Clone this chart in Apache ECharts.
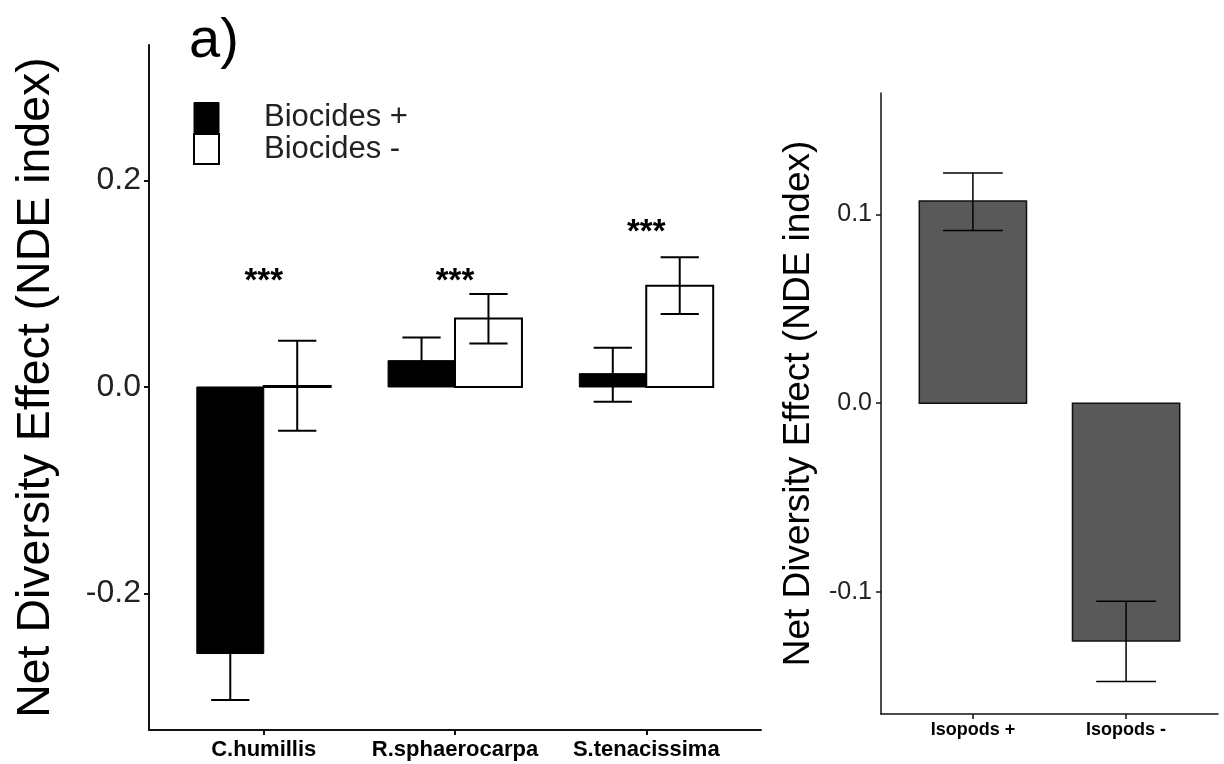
<!DOCTYPE html>
<html><head><meta charset="utf-8">
<script src="https://cdn.jsdelivr.net/npm/echarts@6/dist/echarts.min.js"></script>
<style>html,body{margin:0;padding:0;background:#fff}#c{width:1224px;height:764px}</style>
</head><body><div id="c"></div>
<script>
// ---- data: panel a (left) ----
const leftCategories = ['C.humillis', 'R.sphaerocarpa', 'S.tenacissima'];
const biocidesPlus     = [-0.258, 0.0255, 0.0129];
const biocidesPlusLow  = [-0.303, 0.003, -0.0143];
const biocidesPlusHigh = [-0.213, 0.048, 0.0379];
const biocidesMinus     = [0.001, 0.0663, 0.098];
const biocidesMinusLow  = [-0.0424, 0.042, 0.0706];
const biocidesMinusHigh = [0.0447, 0.090, 0.1255];
const sigLabels = ['***', '***', '***'];
const sigLabelY = [0.102, 0.102, 0.149];
const leftYTicks = [-0.2, 0, 0.2];
// ---- data: right panel ----
const rightCategories = ['Isopods +', 'Isopods -'];
const isopods     = [0.1072, -0.126];
const isopodsLow  = [0.0915, -0.1475];
const isopodsHigh = [0.122, -0.105];
const rightYTicks = [-0.1, 0, 0.1];

const FONT = 'Liberation Sans, Arial, sans-serif';

function barRender(o0, o1, fill, stroke, lw) {
  return function (params, api) {
    const x = api.value(0), y = api.value(1);
    const a = api.coord([x + o0, 0]), b = api.coord([x + o1, y]);
    return {type: 'rect', shape: {x: Math.min(a[0], b[0]), y: Math.min(a[1], b[1]),
      width: Math.abs(b[0] - a[0]), height: Math.abs(b[1] - a[1])},
      style: {fill: fill, stroke: stroke, lineWidth: lw}};
  };
}
function errRender(off, cap, lw) {
  return function (params, api) {
    const x = api.value(0) + off, lo = api.value(1), hi = api.value(2);
    const pl = api.coord([x, lo]), ph = api.coord([x, hi]);
    const l1 = api.coord([x - cap, lo]), r1 = api.coord([x + cap, lo]);
    const l2 = api.coord([x - cap, hi]), r2 = api.coord([x + cap, hi]);
    const st = {stroke: '#000', lineWidth: lw};
    return {type: 'group', children: [
      {type: 'line', shape: {x1: pl[0], y1: pl[1], x2: ph[0], y2: ph[1]}, style: st},
      {type: 'line', shape: {x1: l1[0], y1: l1[1], x2: r1[0], y2: r1[1]}, style: st},
      {type: 'line', shape: {x1: l2[0], y1: l2[1], x2: r2[0], y2: r2[1]}, style: st}
    ]};
  };
}

const plusData = biocidesPlus.map((v, i) => [i + 1, v]);
const minusData = biocidesMinus.map((v, i) => [i + 1, v]);
const plusErr = biocidesPlus.map((v, i) => [i + 1, biocidesPlusLow[i], biocidesPlusHigh[i]]);
const minusErr = biocidesMinus.map((v, i) => [i + 1, biocidesMinusLow[i], biocidesMinusHigh[i]]);
const sigData = sigLabels.map((t, i) => [i + 1, sigLabelY[i], t]);
const isoData = isopods.map((v, i) => [i + 1, v]);
const isoErr = isopods.map((v, i) => [i + 1, isopodsLow[i], isopodsHigh[i]]);

const axisCommon = {
  axisLine: {show: true, onZero: false, lineStyle: {color: '#111', width: 2}},
  axisTick: {show: true, length: 5, lineStyle: {color: '#111', width: 2}},
  splitLine: {show: false}
};

const chart = echarts.init(document.getElementById('c'), null, {renderer: 'canvas'});
chart.setOption({
  animation: false,
  backgroundColor: '#fff',
  grid: [
    {left: 149, top: 45, width: 612, height: 685},
    {left: 881, top: 93, width: 337, height: 621}
  ],
  graphic: [
    {type: 'text', left: 189, top: 14, style: {text: 'a)', fontSize: 56, fontFamily: FONT, fill: '#000'}}
  ],
  legend: {
    left: 188, top: 97, orient: 'vertical', itemWidth: 25, itemHeight: 30, itemGap: 0,
    icon: 'rect', selectedMode: false,
    textStyle: {fontSize: 31, fontFamily: FONT, color: '#222', lineHeight: 22, padding: [8, 0, 0, 40]},
    data: [
      {name: 'Biocides +', itemStyle: {color: '#000', borderColor: '#000', borderWidth: 1}},
      {name: 'Biocides -', itemStyle: {color: '#fff', borderColor: '#000', borderWidth: 2}}
    ]
  },
  xAxis: [
    Object.assign({}, axisCommon, {
      type: 'value', gridIndex: 0, min: 0.4, max: 3.6,
      axisTick: Object.assign({}, axisCommon.axisTick, {customValues: [1, 2, 3]}),
      axisLabel: {customValues: [1, 2, 3], margin: 9, fontSize: 22, fontWeight: 'bold', fontFamily: FONT, color: '#000',
        formatter: v => leftCategories[Math.round(v) - 1]}
    }),
    Object.assign({}, axisCommon, {
      type: 'value', gridIndex: 1, min: 0.4, max: 2.6,
      axisLine: {show: true, onZero: false, lineStyle: {color: '#111', width: 1.5}},
      axisTick: {show: true, length: 5, customValues: [1, 2], lineStyle: {color: '#111', width: 1.5}},
      axisLabel: {customValues: [1, 2], margin: 7, fontSize: 18, fontWeight: 'bold', fontFamily: FONT, color: '#000',
        formatter: v => rightCategories[Math.round(v) - 1]}
    })
  ],
  yAxis: [
    Object.assign({}, axisCommon, {
      type: 'value', gridIndex: 0, min: -0.332, max: 0.331,
      axisTick: Object.assign({}, axisCommon.axisTick, {customValues: leftYTicks}),
      axisLabel: {customValues: leftYTicks, margin: 8, fontSize: 32, fontFamily: FONT, color: '#222',
        formatter: v => v.toFixed(1)},
      name: 'Net Diversity Effect (NDE index)', nameLocation: 'middle', nameGap: 89,
      nameTextStyle: {fontSize: 46.5, fontFamily: FONT, color: '#000'}
    }),
    Object.assign({}, axisCommon, {
      type: 'value', gridIndex: 1, min: -0.1647, max: 0.1644,
      axisLine: {show: true, onZero: false, lineStyle: {color: '#111', width: 1.5}},
      axisTick: {show: true, length: 5, customValues: rightYTicks, lineStyle: {color: '#111', width: 1.5}},
      axisLabel: {customValues: rightYTicks, margin: 9, fontSize: 25, fontFamily: FONT, color: '#222',
        formatter: v => v.toFixed(1)},
      name: 'Net Diversity Effect (NDE index)', nameLocation: 'middle', nameGap: 64,
      nameTextStyle: {fontSize: 37, fontFamily: FONT, color: '#000'}
    })
  ],
  series: [
    {name: 'Biocides +', type: 'custom', xAxisIndex: 0, yAxisIndex: 0, data: plusData,
      itemStyle: {color: '#000'}, encode: {x: 0, y: 1}, renderItem: barRender(-0.35, 0, '#000', '#000', 1)},
    {name: 'Biocides -', type: 'custom', xAxisIndex: 0, yAxisIndex: 0, data: minusData,
      itemStyle: {color: '#fff'}, encode: {x: 0, y: 1}, renderItem: barRender(0, 0.35, '#fff', '#000', 2)},
    {name: 'err+', type: 'custom', xAxisIndex: 0, yAxisIndex: 0, data: plusErr, z: 5,
      encode: {x: 0, y: [1, 2]}, renderItem: errRender(-0.175, 0.1, 2)},
    {name: 'err-', type: 'custom', xAxisIndex: 0, yAxisIndex: 0, data: minusErr, z: 5,
      encode: {x: 0, y: [1, 2]}, renderItem: errRender(0.175, 0.1, 2)},
    {name: 'sig', type: 'custom', xAxisIndex: 0, yAxisIndex: 0, data: sigData, z: 6,
      encode: {x: 0, y: 1},
      renderItem: function (params, api) {
        const p = api.coord([api.value(0), api.value(1)]);
        return {type: 'text', x: p[0], y: p[1], style: {text: sigLabels[params.dataIndex], fontSize: 33,
          fontWeight: 'bold', fontFamily: FONT, align: 'center', verticalAlign: 'middle', fill: '#000'}};
      }},
    {name: 'Isopods', type: 'custom', xAxisIndex: 1, yAxisIndex: 1, data: isoData,
      encode: {x: 0, y: 1}, renderItem: barRender(-0.35, 0.35, '#595959', '#111', 1.5)},
    {name: 'errIso', type: 'custom', xAxisIndex: 1, yAxisIndex: 1, data: isoErr, z: 5,
      encode: {x: 0, y: [1, 2]}, renderItem: errRender(0, 0.195, 1.5)}
  ]
});
</script>
</body></html>
